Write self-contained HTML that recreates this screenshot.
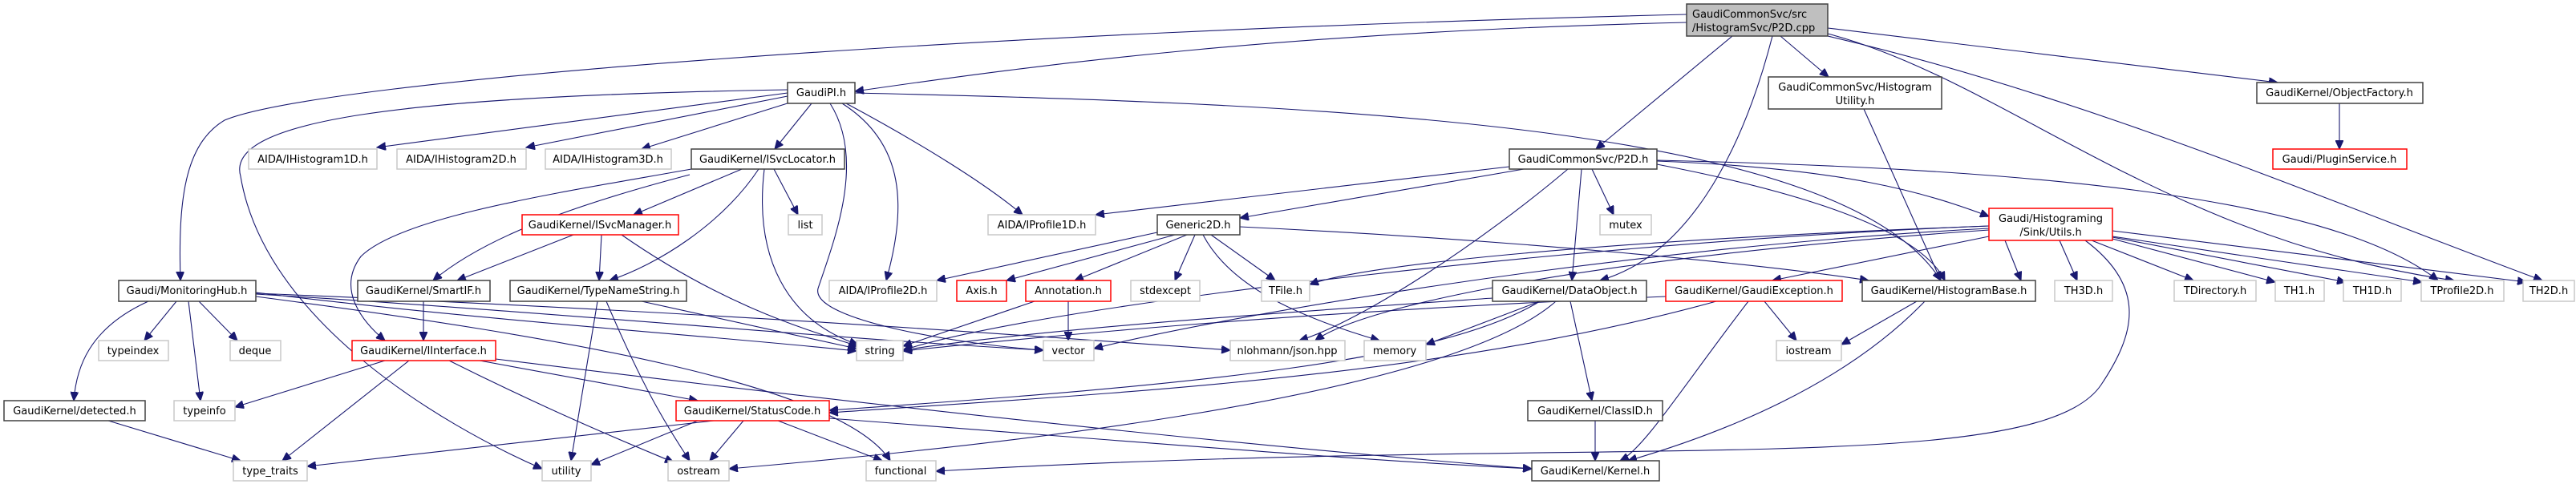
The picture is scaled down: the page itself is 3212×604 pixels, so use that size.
<!DOCTYPE html>
<html><head><meta charset="utf-8"><style>
html,body{margin:0;padding:0;background:#fff;}
svg{display:block;}
text{font-family:"DejaVu Sans","Liberation Sans",sans-serif;font-size:13px;fill:#000;text-anchor:middle;}
.n rect{fill:#fff;stroke:#404040;stroke-width:1.5;}
.s rect{fill:#fff;stroke:#c8c8c8;stroke-width:1.5;}
.r rect{fill:#fff;stroke:#ff0000;stroke-width:1.5;}
.g rect{fill:#bfbfbf;stroke:#404040;stroke-width:1.5;}
path{fill:none;stroke:#191970;stroke-width:1.1;marker-end:url(#a);}
</style></head><body>
<svg width="3212" height="604" viewBox="0 0 3212 604" xmlns="http://www.w3.org/2000/svg">
<defs><marker id="a" markerUnits="userSpaceOnUse" markerWidth="12" markerHeight="10" refX="11" refY="5" orient="auto"><path d="M0,0 L11,5 L0,10 z" style="fill:#191970;stroke:#191970;marker-end:none"/></marker></defs>
<g>
<path d="M2103,28 C1600,40 1300,80 1066,114"/>
<path d="M2103,18 C1200,40 400,100 280,150 C230,180 222,250 225,350"/>
<path d="M2160,45 L1990,186"/>
<path d="M2210,45 C2170,200 2100,320 1995,350"/>
<path d="M2220,45 L2280,96"/>
<path d="M2279,35 L2840,103"/>
<path d="M2279,42 C2500,100 2700,300 3060,350"/>
<path d="M2279,45 C2600,120 2900,250 3170,350"/>
<path d="M982,116 L470,184"/>
<path d="M982,120 L656,184"/>
<path d="M985,128 L800,186"/>
<path d="M1012,129 L966,186"/>
<path d="M982,112 C500,120 280,150 300,220 C330,400 550,530 676,585"/>
<path d="M1050,129 C1130,180 1130,260 1105,350"/>
<path d="M1055,129 C1150,180 1230,230 1275,268"/>
<path d="M1035,129 C1080,200 1040,300 1020,360 C1010,400 1200,430 1301,437"/>
<path d="M1066,116 C1700,130 2300,160 2420,350"/>
<path d="M925,211 L790,268"/>
<path d="M860,218 C700,260 600,300 540,350"/>
<path d="M862,211 C700,240 500,270 450,320 C420,360 450,400 480,425"/>
<path d="M946,211 C900,280 820,330 760,350"/>
<path d="M953,211 C940,320 980,400 1070,430"/>
<path d="M965,211 L995,268"/>
<path d="M715,293 L570,350"/>
<path d="M750,293 L747,350"/>
<path d="M775,293 C900,380 1000,410 1070,432"/>
<path d="M528,376 L528,425"/>
<path d="M800,376 L1068,435"/>
<path d="M745,376 L712,575"/>
<path d="M756,376 C800,480 830,530 860,575"/>
<path d="M185,376 C110,410 95,460 92,500"/>
<path d="M220,376 L180,425"/>
<path d="M235,376 L250,500"/>
<path d="M248,376 L296,425"/>
<path d="M319,365 C600,400 900,420 1068,438"/>
<path d="M319,367 C700,390 1000,420 1301,437"/>
<path d="M319,366 C900,390 1300,420 1534,437"/>
<path d="M319,370 C700,420 1050,480 1110,575"/>
<path d="M480,450 L293,508"/>
<path d="M510,450 L352,575"/>
<path d="M598,450 L870,500"/>
<path d="M560,450 C700,520 800,560 840,577"/>
<path d="M618,448 C1200,520 1600,560 1910,585"/>
<path d="M135,525 L300,575"/>
<path d="M890,525 L383,582"/>
<path d="M870,525 L737,580"/>
<path d="M927,525 L885,575"/>
<path d="M970,525 L1100,575"/>
<path d="M1034,522 C1400,550 1700,575 1910,585"/>
<path d="M1882,208 L1366,268"/>
<path d="M1900,211 L1546,272"/>
<path d="M1985,211 L2012,268"/>
<path d="M1972,211 L1960,350"/>
<path d="M1955,211 C1850,300 1700,400 1620,425"/>
<path d="M2066,201 C2300,210 2400,240 2480,270"/>
<path d="M2066,205 C2300,250 2400,300 2425,350"/>
<path d="M2066,200 C2500,210 2900,240 3040,350"/>
<path d="M1443,290 L1168,350"/>
<path d="M1465,293 L1255,350"/>
<path d="M1480,293 L1340,350"/>
<path d="M1490,293 L1465,350"/>
<path d="M1510,293 L1590,350"/>
<path d="M1500,293 C1530,350 1600,390 1720,425"/>
<path d="M1546,283 C1900,300 2200,330 2330,350"/>
<path d="M1290,376 L1126,432"/>
<path d="M1332,376 L1332,425"/>
<path d="M2480,282 C2000,300 1700,330 1633,355"/>
<path d="M2480,282 C2000,300 1300,380 1126,437"/>
<path d="M2480,285 C2000,310 1500,400 1364,435"/>
<path d="M2480,287 C2000,320 1700,380 1640,425"/>
<path d="M2480,295 L2210,350"/>
<path d="M2500,300 L2520,350"/>
<path d="M2568,300 L2590,350"/>
<path d="M2608,300 L2735,350"/>
<path d="M2634,298 L2837,352"/>
<path d="M2634,296 L2925,352"/>
<path d="M2634,295 L3020,352"/>
<path d="M2634,288 L3150,352"/>
<path d="M2600,300 C2680,360 2660,420 2620,480 C2540,600 2000,540 1167,588"/>
<path d="M1920,376 L1778,430"/>
<path d="M1861,372 C1600,390 1300,410 1126,437"/>
<path d="M1920,376 C1800,450 1500,480 1034,512"/>
<path d="M1958,376 L1985,500"/>
<path d="M1940,376 C1800,500 1200,560 909,585"/>
<path d="M2077,370 C1600,390 1300,420 1126,438"/>
<path d="M2140,376 C1800,470 1400,490 1034,515"/>
<path d="M2180,376 C2100,480 2050,560 2020,575"/>
<path d="M2200,376 L2240,425"/>
<path d="M2390,376 L2296,430"/>
<path d="M2400,376 C2300,480 2150,540 2030,575"/>
<path d="M1989,525 L1989,575"/>
<path d="M2324,136 L2420,350"/>
<path d="M2917,129 L2917,186"/>
</g>
<g class="g"><rect x="2103" y="5" width="176" height="40"/><text x="2110" y="22" style="text-anchor:start">GaudiCommonSvc/src</text><text x="2110" y="39" style="text-anchor:start">/HistogramSvc/P2D.cpp</text></g>
<g class="n"><rect x="982" y="103" width="84" height="26"/><text x="1024" y="120">GaudiPI.h</text></g>
<g class="n"><rect x="2205" y="96" width="216" height="40"/><text x="2313" y="113">GaudiCommonSvc/Histogram</text><text x="2313" y="130">Utility.h</text></g>
<g class="n"><rect x="2814" y="103" width="207" height="26"/><text x="2917" y="120">GaudiKernel/ObjectFactory.h</text></g>
<g class="s"><rect x="310" y="186" width="160" height="25"/><text x="390" y="203">AIDA/IHistogram1D.h</text></g>
<g class="s"><rect x="495" y="186" width="161" height="25"/><text x="575" y="203">AIDA/IHistogram2D.h</text></g>
<g class="s"><rect x="680" y="186" width="157" height="25"/><text x="758" y="203">AIDA/IHistogram3D.h</text></g>
<g class="n"><rect x="862" y="186" width="191" height="25"/><text x="957" y="203">GaudiKernel/ISvcLocator.h</text></g>
<g class="n"><rect x="1882" y="186" width="184" height="25"/><text x="1974" y="203">GaudiCommonSvc/P2D.h</text></g>
<g class="r"><rect x="2834" y="186" width="167" height="25"/><text x="2917" y="203">Gaudi/PluginService.h</text></g>
<g class="r"><rect x="651" y="268" width="195" height="25"/><text x="748" y="285">GaudiKernel/ISvcManager.h</text></g>
<g class="s"><rect x="983" y="268" width="42" height="25"/><text x="1004" y="285">list</text></g>
<g class="s"><rect x="1232" y="268" width="134" height="25"/><text x="1299" y="285">AIDA/IProfile1D.h</text></g>
<g class="n"><rect x="1443" y="268" width="103" height="25"/><text x="1494" y="285">Generic2D.h</text></g>
<g class="s"><rect x="1995" y="268" width="64" height="25"/><text x="2027" y="285">mutex</text></g>
<g class="r"><rect x="2480" y="260" width="154" height="40"/><text x="2557" y="277">Gaudi/Histograming</text><text x="2557" y="294">/Sink/Utils.h</text></g>
<g class="n"><rect x="148" y="350" width="171" height="26"/><text x="233" y="367">Gaudi/MonitoringHub.h</text></g>
<g class="n"><rect x="446" y="350" width="165" height="26"/><text x="528" y="367">GaudiKernel/SmartIF.h</text></g>
<g class="n"><rect x="636" y="350" width="220" height="26"/><text x="746" y="367">GaudiKernel/TypeNameString.h</text></g>
<g class="s"><rect x="1034" y="350" width="134" height="26"/><text x="1101" y="367">AIDA/IProfile2D.h</text></g>
<g class="r"><rect x="1193" y="350" width="62" height="26"/><text x="1224" y="367">Axis.h</text></g>
<g class="r"><rect x="1279" y="350" width="106" height="26"/><text x="1332" y="367">Annotation.h</text></g>
<g class="s"><rect x="1410" y="350" width="86" height="26"/><text x="1453" y="367">stdexcept</text></g>
<g class="s"><rect x="1573" y="350" width="60" height="26"/><text x="1603" y="367">TFile.h</text></g>
<g class="n"><rect x="1861" y="350" width="192" height="26"/><text x="1957" y="367">GaudiKernel/DataObject.h</text></g>
<g class="r"><rect x="2077" y="350" width="220" height="26"/><text x="2187" y="367">GaudiKernel/GaudiException.h</text></g>
<g class="n"><rect x="2322" y="350" width="216" height="26"/><text x="2430" y="367">GaudiKernel/HistogramBase.h</text></g>
<g class="s"><rect x="2562" y="350" width="72" height="26"/><text x="2598" y="367">TH3D.h</text></g>
<g class="s"><rect x="2711" y="350" width="102" height="26"/><text x="2762" y="367">TDirectory.h</text></g>
<g class="s"><rect x="2837" y="350" width="61" height="26"/><text x="2867" y="367">TH1.h</text></g>
<g class="s"><rect x="2922" y="350" width="72" height="26"/><text x="2958" y="367">TH1D.h</text></g>
<g class="s"><rect x="3019" y="350" width="103" height="26"/><text x="3070" y="367">TProfile2D.h</text></g>
<g class="s"><rect x="3146" y="350" width="64" height="26"/><text x="3178" y="367">TH2D.h</text></g>
<g class="s"><rect x="123" y="425" width="87" height="25"/><text x="166" y="442">typeindex</text></g>
<g class="s"><rect x="287" y="425" width="63" height="25"/><text x="318" y="442">deque</text></g>
<g class="r"><rect x="439" y="425" width="179" height="25"/><text x="528" y="442">GaudiKernel/IInterface.h</text></g>
<g class="s"><rect x="1068" y="425" width="58" height="25"/><text x="1097" y="442">string</text></g>
<g class="s"><rect x="1301" y="425" width="63" height="25"/><text x="1332" y="442">vector</text></g>
<g class="s"><rect x="1534" y="425" width="143" height="25"/><text x="1605" y="442">nlohmann/json.hpp</text></g>
<g class="s"><rect x="1701" y="425" width="77" height="25"/><text x="1739" y="442">memory</text></g>
<g class="s"><rect x="2215" y="425" width="81" height="25"/><text x="2255" y="442">iostream</text></g>
<g class="n"><rect x="5" y="500" width="176" height="25"/><text x="93" y="517">GaudiKernel/detected.h</text></g>
<g class="s"><rect x="217" y="500" width="76" height="25"/><text x="255" y="517">typeinfo</text></g>
<g class="r"><rect x="843" y="500" width="191" height="25"/><text x="938" y="517">GaudiKernel/StatusCode.h</text></g>
<g class="n"><rect x="1905" y="500" width="168" height="25"/><text x="1989" y="517">GaudiKernel/ClassID.h</text></g>
<g class="s"><rect x="291" y="575" width="92" height="25"/><text x="337" y="592">type_traits</text></g>
<g class="s"><rect x="676" y="575" width="61" height="25"/><text x="706" y="592">utility</text></g>
<g class="s"><rect x="833" y="575" width="76" height="25"/><text x="871" y="592">ostream</text></g>
<g class="s"><rect x="1080" y="575" width="87" height="25"/><text x="1123" y="592">functional</text></g>
<g class="n"><rect x="1910" y="575" width="159" height="25"/><text x="1989" y="592">GaudiKernel/Kernel.h</text></g>
</svg>
</body></html>
